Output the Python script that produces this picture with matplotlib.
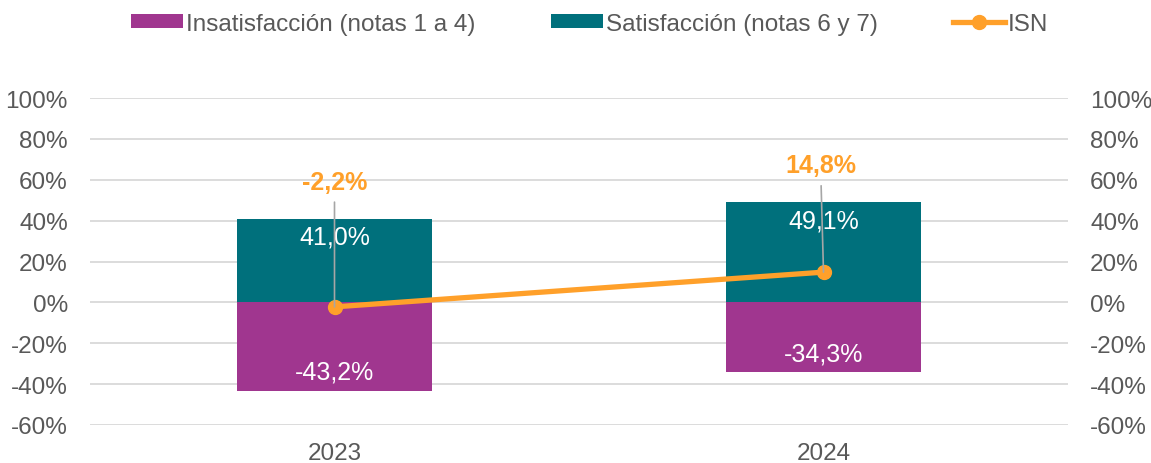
import matplotlib.pyplot as plt
from matplotlib.patches import Patch
from matplotlib.lines import Line2D

plt.rcParams['font.family'] = ['Liberation Sans', 'DejaVu Sans']

anios = ['2023', '2024']
insatisfaccion = [-43.2, -34.3]
satisfaccion = [41.0, 49.1]
isn = [-2.2, 14.8]

c_insat = '#A0368F'
c_sat = '#00707C'
c_isn = '#FFA02A'
c_texto = '#595959'
c_grid = '#D9D9D9'


def fmt(v):
    return ('%.1f%%' % v).replace('.', ',')


fig = plt.figure(figsize=(11.51, 4.64), dpi=100)
ax = fig.add_axes([90 / 1151, 38 / 464, (1068 - 90) / 1151, (426 - 99) / 464])

x = list(range(len(anios)))
ax.bar(x, insatisfaccion, width=0.4, color=c_insat, zorder=2)
ax.bar(x, satisfaccion, width=0.4, color=c_sat, zorder=2)
ax.plot(x, isn, color=c_isn, lw=3.8, marker='o', ms=10, zorder=4,
        solid_capstyle='round')

# etiquetas de las barras
for xi, v in zip(x, satisfaccion):
    ax.annotate(fmt(v), xy=(xi, v), xytext=(0, -13), textcoords='offset points',
                ha='center', va='center', color='white', fontsize=18, zorder=5)
for xi, v in zip(x, insatisfaccion):
    ax.annotate(fmt(v), xy=(xi, v), xytext=(0, 14), textcoords='offset points',
                ha='center', va='center', color='white', fontsize=18, zorder=5)

# etiquetas ISN con linea guia
for xi, v, dx, alto in zip(x, isn, [0, -0.006], [59, 67]):
    ax.annotate(fmt(v), xy=(xi, v), xytext=(xi + dx, alto), textcoords='data',
                ha='center', va='center', color=c_isn, fontsize=18,
                fontweight='bold', zorder=5,
                arrowprops=dict(arrowstyle='-', color='#A6A6A6', lw=1.2,
                                shrinkA=4, shrinkB=0))

ax.set_xlim(-0.5, 1.5)
ax.set_ylim(-60, 100)
ax.set_yticks(range(-60, 101, 20))
ax.set_yticklabels(['%d%%' % t for t in range(-60, 101, 20)])
ax.set_xticks(x)
ax.set_xticklabels(anios)
ax.grid(axis='y', color=c_grid, lw=1.3, zorder=0)
for s in ax.spines.values():
    s.set_visible(False)
ax.tick_params(axis='y', length=0, labelsize=17.5, labelcolor=c_texto, pad=16)
ax.tick_params(axis='x', length=0, labelsize=17.5, labelcolor=c_texto, pad=12)

ax2 = ax.twinx()
ax2.set_ylim(-60, 100)
ax2.set_yticks(range(-60, 101, 20))
ax2.set_yticklabels(['%d%%' % t for t in range(-60, 101, 20)])
for s in ax2.spines.values():
    s.set_visible(False)
ax2.tick_params(axis='y', length=0, labelsize=17.5, labelcolor=c_texto, pad=16)

handles = [Patch(facecolor=c_insat), Patch(facecolor=c_sat),
           Line2D([0], [0], color=c_isn, lw=3.8, marker='o', ms=10)]
labels = ['Insatisfacción (notas 1 a 4)', 'Satisfacción (notas 6 y 7)', 'ISN']
leg = fig.legend(handles, labels, loc='center', bbox_to_anchor=(0.5126, 0.947), ncol=3,
                 frameon=False, fontsize=17.5, handlelength=2.14, handleheight=0.5,
                 handletextpad=0.12, columnspacing=3.1)
for t in leg.get_texts():
    t.set_color(c_texto)

fig.savefig('out.png', dpi=100)
